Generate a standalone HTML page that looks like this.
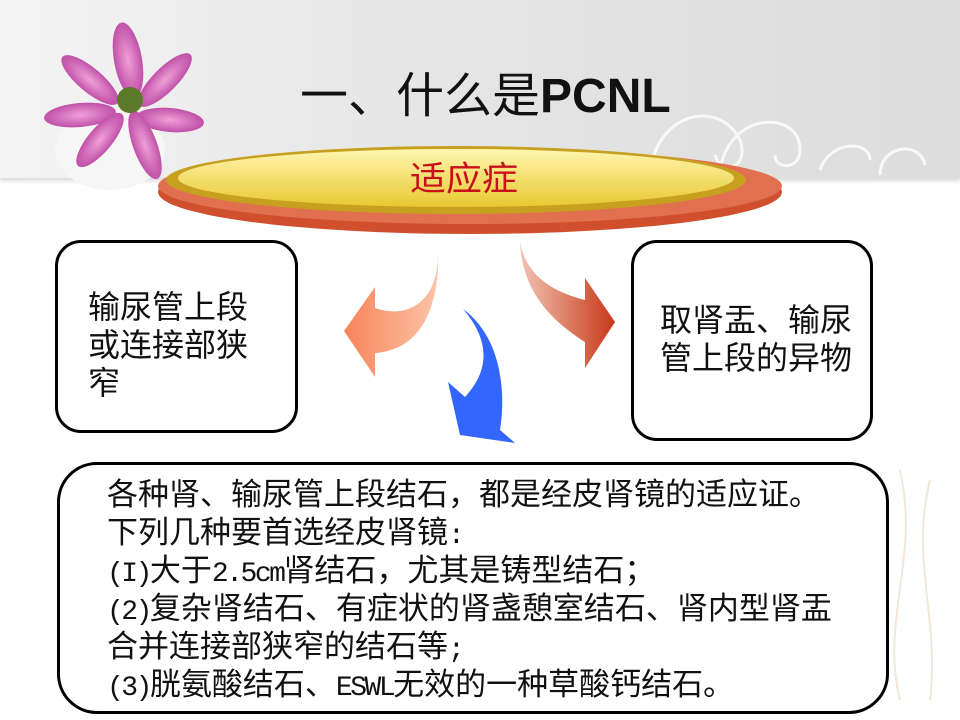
<!DOCTYPE html>
<html><head><meta charset="utf-8"><style>
body{margin:0;width:960px;height:720px;overflow:hidden;background:#fff;position:relative;font-family:"Liberation Sans","Noto Sans CJK SC",sans-serif}
.hdr{position:absolute;left:0;top:0;width:960px;height:178px;background:linear-gradient(90deg,#f4f4f4 0%,#e6e6e6 40%,#dcdcdc 100%);box-shadow:0 3px 4px rgba(0,0,0,.15)}
.t{position:absolute;left:300px;top:68px;font-size:48px;color:#111;white-space:nowrap;line-height:58px}
.box{position:absolute;border:3px solid #000;border-radius:26px;background:#fff;box-sizing:border-box}
.bt{position:absolute;font-family:"Noto Sans CJK SC",sans-serif;font-size:32px;line-height:38px;color:#111;white-space:nowrap}
.m{position:absolute;left:107px;height:38px;font-family:"Noto Sans CJK SC",sans-serif;font-size:31px;line-height:38px;color:#111;white-space:nowrap;overflow:visible}
.l{font-family:"Liberation Mono",monospace;font-size:28px;letter-spacing:-2.5px;line-height:1;vertical-align:baseline}
</style></head><body>
<div class="hdr"></div>
<svg width="960" height="720" style="position:absolute;left:0;top:0">
<defs>
<radialGradient id="pf" cx=".5" cy=".5" r=".5"><stop offset="0" stop-color="#f0a0d8"/><stop offset="1" stop-color="#c050a8"/></radialGradient>
<linearGradient id="yl" x1="0" y1="0" x2="0" y2="1"><stop offset="0" stop-color="#fff6b0"/><stop offset="1" stop-color="#e8c830"/></linearGradient>
<linearGradient id="la" x1="1" y1="0" x2="0" y2="0"><stop offset="0" stop-color="#fcc4a8"/><stop offset="1" stop-color="#f8845a"/></linearGradient>
<linearGradient id="ra" x1="0" y1="0" x2="1" y2="0"><stop offset="0" stop-color="#f2c4b4"/><stop offset="1" stop-color="#c83818"/></linearGradient>
</defs>
<g fill="none" stroke="#fff" stroke-width="3" opacity=".8">
<path d="M650 170 C660 110 720 100 740 140 C750 170 720 175 715 155"/>
<path d="M720 170 C730 110 800 110 800 150 C800 170 775 170 775 155"/>
<path d="M820 170 C830 140 870 140 870 160"/>
<path d="M880 175 C880 145 920 140 925 165"/>
</g>
<g fill="none" stroke="#f0e0cc" stroke-width="2" opacity=".8">
<path d="M900 700 C880 620 920 560 900 470"/>
<path d="M930 700 C940 620 910 560 930 480"/>
</g>
<ellipse cx="110" cy="150" rx="55" ry="40" fill="#f6f6f6"/>
<g fill="url(#pf)">
<ellipse cx="128" cy="60" rx="14" ry="38" transform="rotate(-10 128 60)"/>
<ellipse cx="90" cy="80" rx="12" ry="36" transform="rotate(-50 90 80)"/>
<ellipse cx="165" cy="80" rx="12" ry="36" transform="rotate(45 165 80)"/>
<ellipse cx="80" cy="115" rx="12" ry="36" transform="rotate(-95 80 115)"/>
<ellipse cx="170" cy="120" rx="12" ry="34" transform="rotate(95 170 120)"/>
<ellipse cx="100" cy="140" rx="12" ry="34" transform="rotate(-140 100 140)"/>
<ellipse cx="145" cy="145" rx="12" ry="36" transform="rotate(160 145 145)"/>
</g>
<circle cx="130" cy="100" r="13" fill="#5c7a2a"/>
<ellipse cx="470" cy="192" rx="312" ry="42" fill="#d0502e"/>
<ellipse cx="470" cy="186" rx="312" ry="38" fill="#e07050"/>
<ellipse cx="456" cy="180" rx="290" ry="34" fill="#c8a020"/>
<ellipse cx="456" cy="178" rx="278" ry="29" fill="url(#yl)"/>
<path d="M438 248 C440 300 410 320 375 308 L375 287 L344 331 L375 377 L375 353 C420 350 440 310 438 248 Z" fill="url(#la)"/>
<path d="M463 309 C505 340 505 400 500 430 L515 443 L460 435 L448 382 L465 397 C490 370 490 340 463 309 Z" fill="#3366ff"/>
<path d="M520 242 C522 290 550 320 585 342 L585 368 L615 322 L585 278 L585 300 C545 290 525 270 520 242 Z" fill="url(#ra)"/>
</svg>
<div class="t">一、什么是<b>PCNL</b></div>
<div style="position:absolute;left:410px;top:158px;font-size:36px;color:#c8101a;line-height:44px;transform-origin:0 0;transform:scaleY(.95)">适应症</div>
<div class="box" style="left:55px;top:240px;width:243px;height:193px"></div>
<div class="bt" style="left:88px;top:286px">输尿管上段<br>或连接部狭<br>窄</div>
<div class="box" style="left:631px;top:240px;width:242px;height:201px"></div>
<div class="bt" style="left:660px;top:299px">取肾盂、输尿<br>管上段的异物</div>
<div class="box" style="left:57px;top:462px;width:832px;height:252px;border-radius:40px"></div>
<div class="m" style="top:473px">各种肾、输尿管上段结石，都是经皮肾镜的适应证。</div>
<div class="m" style="top:511px">下列几种要首选经皮肾镜<span class="l">:</span></div>
<div class="m" style="top:549px"><span class="l">(I)</span>大于<span class="l">2.5cm</span>肾结石，尤其是铸型结石；</div>
<div class="m" style="top:587px"><span class="l">(2)</span>复杂肾结石、有症状的肾盏憩室结石、肾内型肾盂</div>
<div class="m" style="top:625px">合并连接部狭窄的结石等<span class="l">;</span></div>
<div class="m" style="top:663px"><span class="l">(3)</span>胱氨酸结石、<span class="l">ESWL</span>无效的一种草酸钙结石。</div>
</body></html>
